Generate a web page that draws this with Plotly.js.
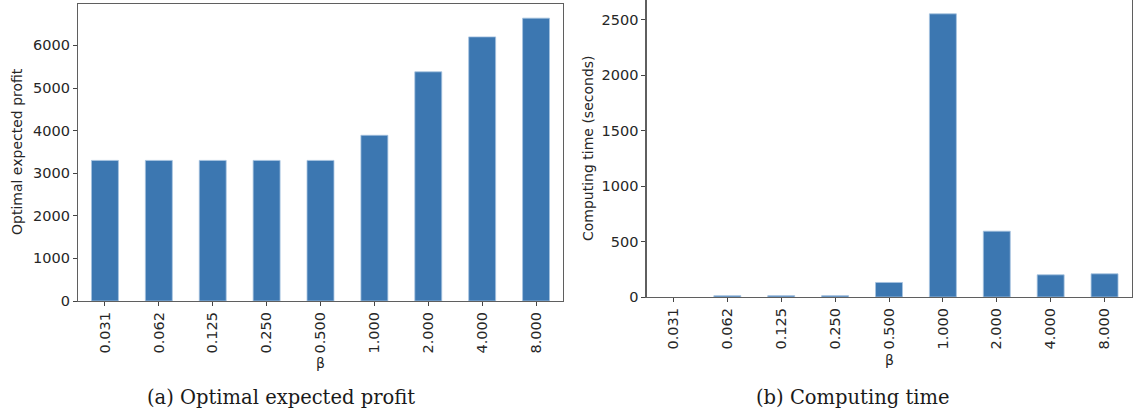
<!DOCTYPE html>
<html>
<head>
<meta charset="utf-8">
<script src="https://cdn.plot.ly/plotly-3.0.1.min.js"></script>
<style>
html,body{margin:0;padding:0;background:#fff;}
#chart{width:1133px;height:418px;}
</style>
</head>
<body>
<div id="chart"></div>
<script>
// Data
const betaLabels = ["0.031","0.062","0.125","0.250","0.500","1.000","2.000","4.000","8.000"];
const profitValues = [3300, 3300, 3300, 3300, 3300, 3890, 5380, 6200, 6640];
const timeValues = [0, 12, 12, 12, 131, 2555, 594, 200, 209];
const profitTicks = [0, 1000, 2000, 3000, 4000, 5000, 6000];
const timeTicks = [0, 500, 1000, 1500, 2000, 2500];
const captionA = "(a) Optimal expected profit";
const captionB = "(b) Computing time";
const yTitleA = "Optimal expected profit";
const yTitleB = "Computing time (seconds)";
const xTitle = "β";

const barColor = "#3c77b1";
const edgeColor = "#a6c3e0";
const tickFont = {family: "DejaVu Sans", size: 14.5, color: "#262626"};
const frame = "#5f5f5f";

const traces = [
  {type: "bar", x: betaLabels, y: profitValues, xaxis: "x", yaxis: "y", width: 0.5,
   marker: {color: barColor, line: {color: edgeColor, width: 0.8}}, hoverinfo: "x+y"},
  {type: "bar", x: betaLabels, y: timeValues, xaxis: "x2", yaxis: "y2", width: 0.5,
   marker: {color: barColor, line: {color: edgeColor,
     width: timeValues.map(v => v > 0 ? 0.8 : 0)}}, hoverinfo: "x+y"}
];

function xAxis(domain, anchor) {
  return {domain: domain, anchor: anchor, type: "category", range: [-0.5, 8.5],
    tickangle: -90, ticks: "outside", ticklen: 4, tickwidth: 1, tickcolor: "#444",
    tickfont: tickFont, showgrid: false, zeroline: false,
    showline: true, linecolor: frame, linewidth: 1.2, mirror: true, fixedrange: true};
}
function yAxis(domain, anchor, range, ticks) {
  return {domain: domain, anchor: anchor, range: range, tickvals: ticks,
    ticktext: ticks.map(String), ticks: "outside", ticklen: 4, tickwidth: 1, tickcolor: "#444",
    tickfont: tickFont, showgrid: false, zeroline: false,
    showline: true, linecolor: frame, linewidth: 1.2, mirror: true, fixedrange: true};
}

const W = 1133, H = 418;
const layout = {
  width: W, height: H,
  margin: {l: 0, r: 0, t: 0, b: 0},
  paper_bgcolor: "#ffffff", plot_bgcolor: "#ffffff",
  showlegend: false,
  bargap: 0,
  xaxis: xAxis([78 / W, 563 / W], "y"),
  yaxis: yAxis([1 - 301 / H, 1 - 4 / H], "x", [0, 6972], profitTicks),
  xaxis2: xAxis([646.5 / W, 1131.5 / W], "y2"),
  yaxis2: yAxis([1 - 297 / H, 1], "x2", [0, 2680], timeTicks),
  annotations: [
    {text: yTitleA, xref: "paper", yref: "paper", x: 17 / W, y: 1 - 152 / H,
     textangle: -90, showarrow: false, xanchor: "center", yanchor: "middle",
     font: {family: "DejaVu Sans", size: 14, color: "#262626"}},
    {text: yTitleB, xref: "paper", yref: "paper", x: 588 / W, y: 1 - 148 / H,
     textangle: -90, showarrow: false, xanchor: "center", yanchor: "middle",
     font: {family: "DejaVu Sans", size: 14, color: "#262626"}},
    {text: xTitle, xref: "paper", yref: "paper", x: 320.5 / W, y: 1 - 363 / H,
     showarrow: false, xanchor: "center", yanchor: "middle",
     font: {family: "DejaVu Sans", size: 14, color: "#262626"}},
    {text: xTitle, xref: "paper", yref: "paper", x: 889 / W, y: 1 - 360 / H,
     showarrow: false, xanchor: "center", yanchor: "middle",
     font: {family: "DejaVu Sans", size: 14, color: "#262626"}},
    {text: captionA, xref: "paper", yref: "paper", x: 280.5 / W, y: 1 - 397 / H,
     showarrow: false, xanchor: "center", yanchor: "middle",
     font: {family: "DejaVu Serif", size: 19.5, color: "#1a1a1a"}},
    {text: captionB, xref: "paper", yref: "paper", x: 853 / W, y: 1 - 397 / H,
     showarrow: false, xanchor: "center", yanchor: "middle",
     font: {family: "DejaVu Serif", size: 19.5, color: "#1a1a1a"}}
  ]
};

Plotly.newPlot("chart", traces, layout, {displayModeBar: false, staticPlot: true});
</script>
</body>
</html>
